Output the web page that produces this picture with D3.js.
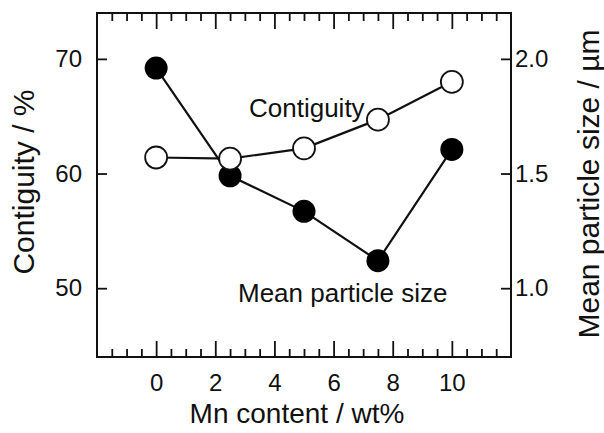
<!DOCTYPE html>
<html>
<head>
<meta charset="utf-8">
<script src="https://cdn.jsdelivr.net/npm/d3@7"></script>
<style>
  body { margin: 0; background: #fff; }
  text { font-family: "Liberation Sans", Arial, sans-serif; fill: #111; }
</style>
</head>
<body>
<div id="chart"></div>
<script>
// data
var mnContent = [0, 2.5, 5, 7.5, 10];
var contiguity = [61.4, 61.3, 62.2, 64.7, 68.0];     // %
var particleSize = [1.96, 1.49, 1.335, 1.12, 1.605]; // um
var xTicks = [0, 2, 4, 6, 8, 10];
var leftTicks = [50, 60, 70];
var rightTicks = [1.0, 1.5, 2.0];

function init() {
  var w = 604;
  var h = 433;
  var margin = { top: 13, right: 93, bottom: 76, left: 97 };
  var iw = w - margin.left - margin.right;
  var ih = h - margin.top - margin.bottom;

  var svg = d3.select("#chart")
    .append("svg")
    .attr("width", w)
    .attr("height", h);

  var g = svg.append("g")
    .attr("transform", "translate(" + margin.left + "," + margin.top + ")");

  // scales
  var x = d3.scaleLinear().domain([-2, 12]).range([0, iw]);
  var yLeft = d3.scaleLinear().domain([44, 74]).range([ih, 0]);
  var yRight = d3.scaleLinear().domain([0.7, 2.2]).range([ih, 0]);

  // minor ticks every 0.5, majors every 2
  var minorX = d3.range(-1.5, 12, 0.5).filter(function(v) { return v % 2 !== 0; });

  g.append("g")
    .attr("transform", "translate(0," + ih + ")")
    .call(d3.axisBottom(x).tickValues(minorX).tickSize(-8).tickSizeOuter(0).tickFormat(""));
  g.append("g")
    .call(d3.axisTop(x).tickValues(minorX).tickSize(-8).tickSizeOuter(0).tickFormat(""));

  g.append("g")
    .attr("transform", "translate(0," + ih + ")")
    .call(d3.axisBottom(x).tickValues(xTicks).tickSize(-16).tickSizeOuter(0).tickPadding(17)
      .tickFormat(d3.format("d")));
  g.append("g")
    .call(d3.axisTop(x).tickValues(xTicks).tickSize(-16).tickSizeOuter(0).tickFormat(""));

  g.append("g")
    .call(d3.axisLeft(yLeft).tickValues(leftTicks).tickSize(-10).tickSizeOuter(0).tickPadding(15));

  g.append("g")
    .attr("transform", "translate(" + iw + ",0)")
    .call(d3.axisRight(yRight).tickValues(rightTicks).tickSize(-10).tickSizeOuter(0).tickPadding(4)
      .tickFormat(d3.format(".1f")));

  g.selectAll(".domain").remove();
  g.selectAll(".tick line").attr("stroke", "#111").attr("stroke-width", 1.8);
  g.selectAll(".tick text").attr("font-size", 24).style("font-family", "'Liberation Sans', Arial, sans-serif");

  // frame
  g.append("rect")
    .attr("width", iw)
    .attr("height", ih)
    .attr("fill", "none")
    .attr("stroke", "#111")
    .attr("stroke-width", 2);

  // mean particle size (filled)
  var lineSize = d3.line()
    .x(function(d, i) { return x(mnContent[i]); })
    .y(function(d) { return yRight(d); });

  g.append("path")
    .datum(particleSize)
    .attr("d", lineSize)
    .attr("fill", "none")
    .attr("stroke", "#111")
    .attr("stroke-width", 2.2);

  g.selectAll(".dot-size")
    .data(particleSize)
    .enter()
    .append("circle")
    .attr("class", "dot-size")
    .attr("cx", function(d, i) { return x(mnContent[i]); })
    .attr("cy", function(d) { return yRight(d); })
    .attr("r", 11.5)
    .attr("fill", "#000");

  // contiguity (open)
  var lineCont = d3.line()
    .x(function(d, i) { return x(mnContent[i]); })
    .y(function(d) { return yLeft(d); });

  g.append("path")
    .datum(contiguity)
    .attr("d", lineCont)
    .attr("fill", "none")
    .attr("stroke", "#111")
    .attr("stroke-width", 2.2);

  g.selectAll(".dot-cont")
    .data(contiguity)
    .enter()
    .append("circle")
    .attr("class", "dot-cont")
    .attr("cx", function(d, i) { return x(mnContent[i]); })
    .attr("cy", function(d) { return yLeft(d); })
    .attr("r", 11)
    .attr("fill", "#fff")
    .attr("stroke", "#111")
    .attr("stroke-width", 1.8);

  // in-plot labels
  svg.append("text")
    .attr("x", 249)
    .attr("y", 117)
    .attr("font-size", 26)
    .text("Contiguity");

  svg.append("text")
    .attr("x", 238)
    .attr("y", 302)
    .attr("font-size", 26)
    .text("Mean particle size");

  // axis titles
  svg.append("text")
    .attr("x", 297)
    .attr("y", 423)
    .attr("font-size", 28)
    .style("text-anchor", "middle")
    .text("Mn content / wt%");

  svg.append("text")
    .attr("transform", "translate(34,182) rotate(-90)")
    .attr("font-size", 30)
    .style("text-anchor", "middle")
    .text("Contiguity / %");

  svg.append("text")
    .attr("transform", "translate(599,184) rotate(-90)")
    .attr("font-size", 30)
    .style("text-anchor", "middle")
    .text("Mean particle size / µm");
}

window.onload = init;
</script>
</body>
</html>
